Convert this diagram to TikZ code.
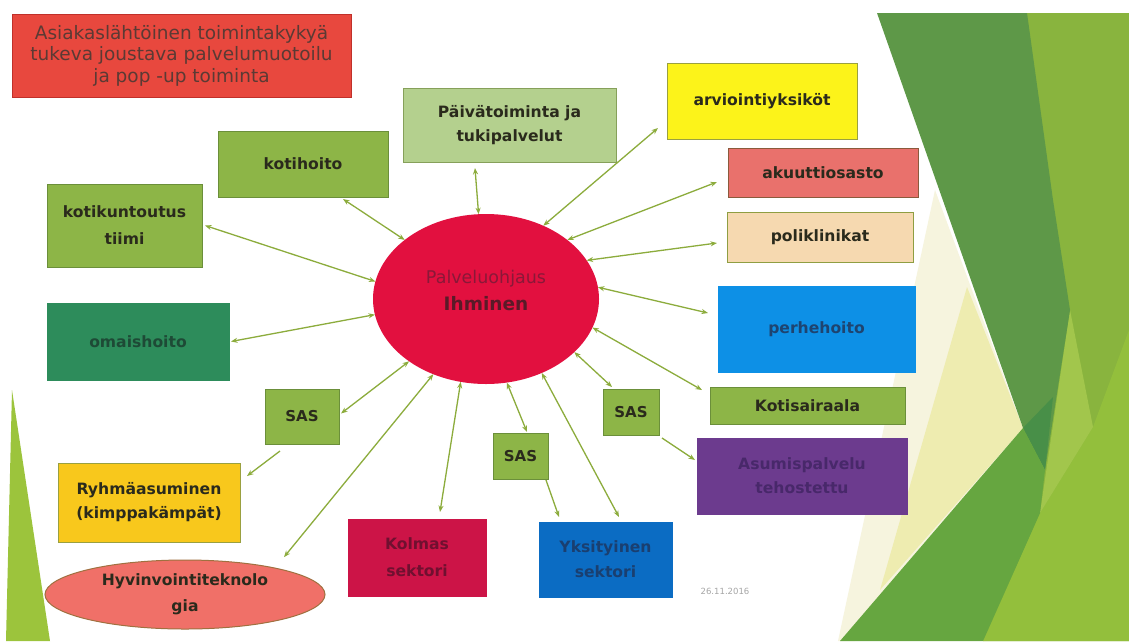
\documentclass[tikz,border=0pt]{standalone}
\usepackage{fontspec}
\setmainfont{DejaVu Sans}
\usetikzlibrary{arrows.meta,shapes.geometric}
\definecolor{linkc}{HTML}{8CAC3C}
\definecolor{txtdark}{HTML}{2A2A1C}
\definecolor{grn}{HTML}{8DB547}
\definecolor{grnb}{HTML}{6B8F3A}
\definecolor{ltgrn}{HTML}{B4D08E}
\definecolor{ltgrnb}{HTML}{86A05A}
\definecolor{yel}{HTML}{FCF31A}
\definecolor{yelb}{HTML}{9AA040}
\definecolor{salm}{HTML}{E9716C}
\definecolor{salmb}{HTML}{8B5A3C}
\definecolor{peach}{HTML}{F6D9B0}
\definecolor{peachb}{HTML}{8F9E42}
\definecolor{skyb}{HTML}{0D90E6}
\definecolor{skybt}{HTML}{1E4470}
\definecolor{purp}{HTML}{6C3B8E}
\definecolor{purpt}{HTML}{48286A}
\definecolor{blu}{HTML}{0B6CC3}
\definecolor{blut}{HTML}{1A3F70}
\definecolor{crim}{HTML}{CC1447}
\definecolor{crimt}{HTML}{701030}
\definecolor{teal}{HTML}{2D8C5B}
\definecolor{tealt}{HTML}{1E4A36}
\definecolor{gold}{HTML}{F8C81C}
\definecolor{hyv}{HTML}{F07068}
\definecolor{hyvb}{HTML}{A07040}
\definecolor{topred}{HTML}{E8483E}
\definecolor{topredb}{HTML}{C0302A}
\definecolor{topredt}{HTML}{5B3A34}
\definecolor{ctrred}{HTML}{E2103F}
\definecolor{dgreen}{HTML}{5E9848}
\definecolor{ddgreen}{HTML}{488F48}
\definecolor{olive}{HTML}{89B43E}
\definecolor{olive2}{HTML}{93BF3C}
\definecolor{cream}{HTML}{EEECB0}
\definecolor{pale}{HTML}{F6F4DE}
\definecolor{bgreen}{HTML}{66A640}
\definecolor{wedge}{HTML}{A2C64C}
\definecolor{leftg}{HTML}{9CC43C}
\begin{document}
\begin{tikzpicture}[x=1pt,y=-1pt,
  box/.style={draw, line width=1pt, inner sep=2pt, outer sep=0pt, align=center,
    font=\bfseries\fontsize{15.6}{24}\selectfont, text=txtdark},
  link/.style={draw=linkc, line width=1.3pt,
    {Stealth[length=6.5pt,width=5pt]}-{Stealth[length=6.5pt,width=5pt]}},
  link1/.style={draw=linkc, line width=1.3pt, -{Stealth[length=6.5pt,width=5pt]}},
]
\useasboundingbox (0,0) rectangle (1129,641);
\fill[white] (0,0) rectangle (1129,641);
% right decoration
\fill[olive] (1020,13) -- (1129,13) -- (1129,641) -- (983,641) -- (1023,428) -- cycle;
\fill[olive2] (1093,427) -- (1129,330) -- (1129,641) -- (983,641) -- (1040,513) -- cycle;
\fill[wedge] (1070,310) -- (1093,427) -- (1040,513) -- cycle;
\fill[pale] (935,190) -- (1023,428) -- (855,641) -- (838,641) -- cycle;
\fill[cream] (967,287) -- (1023,428) -- (880,590) -- cycle;
\fill[dgreen] (877,13) -- (1027,13) -- (1053,200) -- (1070,310) -- (1045,470) -- (1023,428) -- cycle;
\fill[ddgreen] (1023,428) -- (1053,397) -- (1045,470) -- cycle;
\fill[bgreen] (1023,428) -- (1045,470) -- (1040,513) -- (983,641) -- (840,641) -- cycle;
% left decoration
\fill[leftg] (12,390) -- (50,641) -- (6,641) -- cycle;

% nodes
\node[box, fill=topred, draw=topredb, minimum width=339pt, minimum height=83pt,
  font=\fontsize{18.5}{21.5}\selectfont, text=topredt] (top) at (181.5,55.5)
  {Asiakaslähtöinen toimintakykyä\\tukeva joustava palvelumuotoilu\\ja pop -up toiminta};
\node[box, fill=grn, draw=grnb, minimum width=170pt, minimum height=66pt] (koti) at (303,164) {kotihoito};
\node[box, fill=grn, draw=grnb, minimum width=155pt, minimum height=83pt,
  font=\bfseries\fontsize{15.6}{27}\selectfont] (kk) at (124.5,225.5) {kotikuntoutus\\tiimi};
\node[box, fill=ltgrn, draw=ltgrnb, minimum width=213pt, minimum height=74pt] (pa) at (509.5,125) {Päivätoiminta ja\\tukipalvelut};
\node[box, fill=yel, draw=yelb, minimum width=190pt, minimum height=76pt] (ar) at (762,101) {arviointiyksiköt};
\node[box, fill=salm, draw=salmb, minimum width=190pt, minimum height=49pt] (ak) at (823,172.5) {akuuttiosasto};
\node[box, fill=peach, draw=peachb, minimum width=186pt, minimum height=50pt] (po) at (820,237) {poliklinikat};
\node[box, fill=skyb, draw=skyb, text=skybt, minimum width=197pt, minimum height=86pt] (pe) at (816.5,329) {perhehoito};
\node[box, fill=grn, draw=grnb, minimum width=195pt, minimum height=37pt] (ks) at (807.5,405.5) {Kotisairaala};
\node[box, fill=grn, draw=grnb, minimum width=56pt, minimum height=46pt,
  font=\bfseries\fontsize{15}{18}\selectfont] (sasr) at (631,412) {SAS};
\node[box, fill=purp, draw=purp, text=purpt, minimum width=210pt, minimum height=76pt] (as) at (802,476) {Asumispalvelu\\tehostettu};
\node[box, fill=grn, draw=grnb, minimum width=55pt, minimum height=46pt,
  font=\bfseries\fontsize{15}{18}\selectfont] (sasb) at (520.5,456) {SAS};
\node[box, fill=blu, draw=blu, text=blut, minimum width=133pt, minimum height=75pt,
  font=\bfseries\fontsize{15.6}{25}\selectfont] (yk) at (605.5,559.5) {Yksityinen\\sektori};
\node[box, fill=crim, draw=crim, text=crimt, minimum width=138pt, minimum height=77pt,
  font=\bfseries\fontsize{15.6}{27}\selectfont] (ko) at (417,557.5) {Kolmas\\sektori};
\node[box, fill=grn, draw=grnb, minimum width=74pt, minimum height=55pt,
  font=\bfseries\fontsize{15}{18}\selectfont] (sasl) at (302,416.5) {SAS};
\node[box, fill=teal, draw=teal, text=tealt, minimum width=182pt, minimum height=77pt] (om) at (138,341.5) {omaishoito};
\node[box, fill=gold, draw=yelb, minimum width=182pt, minimum height=79pt] (ry) at (149,502.5) {Ryhmäasuminen\\(kimppakämpät)};
\node[box, ellipse, fill=hyv, draw=hyvb, minimum width=280pt, minimum height=69pt, inner sep=0pt,
  font=\bfseries\fontsize{15.6}{26}\selectfont] (hy) at (185,594.5) {Hyvinvointiteknolo\\gia};
\node[ellipse, fill=ctrred, minimum width=226pt, minimum height=170pt, inner sep=0pt, outer sep=0pt] (ctr) at (486,299) {};
\node[align=center, inner sep=0pt, font=\fontsize{17.5}{27}\selectfont] (ctrtext) at (486,290)
  {\textcolor[HTML]{8A1838}{Palveluohjaus}\\\textcolor[HTML]{5A1A28}{\bfseries\fontsize{18.5}{27}\selectfont Ihminen}};
\node[text=gray!70, font=\fontsize{8.5}{10}\selectfont, inner sep=0pt] (date) at (725,591) {26.11.2016};

% connectors
\draw[link] ([xshift=40pt,yshift=-2pt]koti.south) -- (ctr.144);
\draw[link] ([xshift=3pt]kk.east) -- (ctr.171.5);
\draw[link] ([xshift=2pt]om.east) -- (ctr.188);
\draw[link] ([xshift=2pt,yshift=3pt]sasl.east) -- (ctr.219);
\draw[link1] ([xshift=-22pt,yshift=-7pt]sasl.south) -- ([xshift=7pt,yshift=-13pt]ry.north east);
\draw[link] ([yshift=13pt]hy.north east) -- (ctr.235);
\draw[link] ([xshift=23pt,yshift=7pt]ko.north) -- (ctr.253);
\draw[link] ([xshift=6.5pt,yshift=1pt]sasb.north) -- (ctr.284.5);
\draw[link1] ([xshift=-2pt,yshift=-1pt]sasb.south east) -- ([xshift=-46.5pt,yshift=5pt]yk.north);
\draw[link] ([xshift=13.5pt,yshift=5pt]yk.north) -- (ctr.307);
\draw[link] ([xshift=-19pt,yshift=2pt]sasr.north) -- (ctr.329);
\draw[link1] ([xshift=3pt,yshift=-3pt]sasr.south east) -- ([xshift=-2pt,yshift=16pt]as.west);
\draw[link] ([xshift=-8pt,yshift=-3pt]ks.north west) -- (ctr.345);
\draw[link] ([xshift=-10pt,yshift=16pt]pe.west) -- (ctr.6);
\draw[link] ([xshift=-10pt,yshift=-6pt]po.west) -- (ctr.21);
\draw[link] ([xshift=-11pt,yshift=-9.5pt]ak.west) -- (ctr.36);
\draw[link] ([xshift=-9pt,yshift=11pt]ar.south west) -- (ctr.52);
\draw[link] ([xshift=-34.5pt,yshift=-6pt]pa.south) -- (ctr.95.6);
\end{tikzpicture}
\end{document}
